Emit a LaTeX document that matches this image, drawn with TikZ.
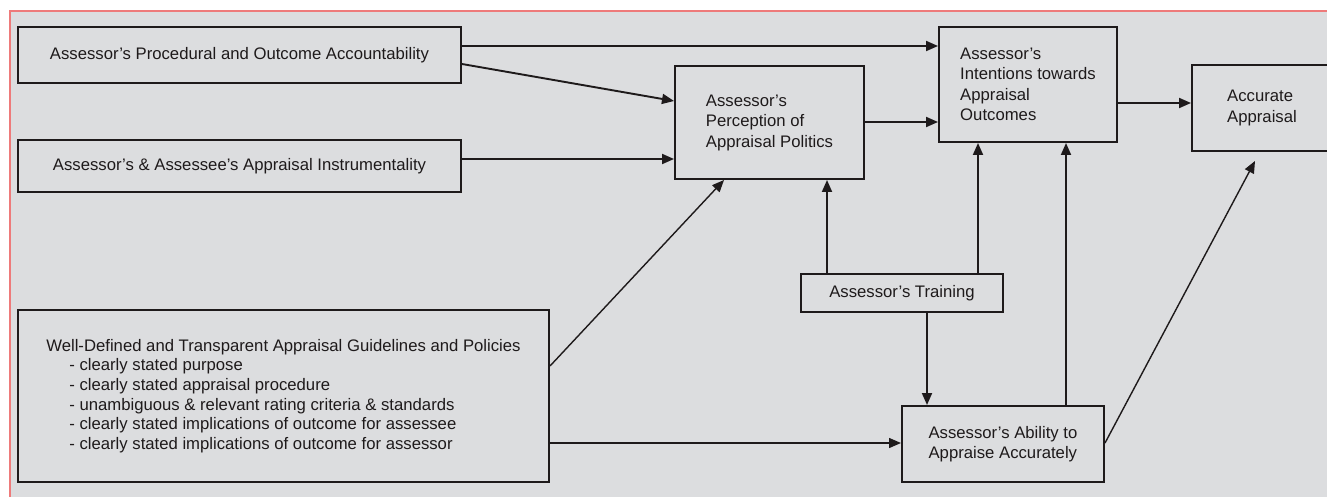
\documentclass[tikz,border=0pt]{standalone}
\usepackage{fontspec}
\setmainfont{Liberation Sans}
\usetikzlibrary{arrows.meta}
\definecolor{bg}{HTML}{DCDDDF}
\definecolor{ink}{HTML}{1E1A1B}
\definecolor{framered}{HTML}{EE7A7A}
\begin{document}
\begin{tikzpicture}[x=1pt,y=-1pt,
  box/.style={draw=ink, line width=2pt, inner sep=0pt, align=left, text=ink,
    font=\fontsize{16.7}{20.5}\selectfont},
  arr/.style={draw=ink, line width=1.9pt, -{Triangle[length=12pt,width=10pt]}},
  thinarr/.style={draw=ink, line width=1.4pt, -{Triangle[length=12pt,width=10pt]}}]
\useasboundingbox (0,0) rectangle (1327,497);
\clip (0,0) rectangle (1327,497);
\fill[white] (0,0) rectangle (1327,497);
\fill[bg] (10,11) rectangle (1330,500);
\draw[framered, line width=1.6pt] (10,500) -- (10,11) -- (1330,11);

\node[box, minimum width=443pt, minimum height=56pt] (A) at (239.5,55)
  {Assessor’s Procedural and Outcome Accountability};
\node[box, minimum width=443pt, minimum height=52pt] (B) at (239.5,166)
  {Assessor’s \& Assessee’s Appraisal Instrumentality};
\node[box, minimum width=189pt, minimum height=113pt] (P) at (769.5,122.5)
  {Assessor’s\\Perception of\\Appraisal Politics};
\node[box, minimum width=178pt, minimum height=115pt] (I) at (1028,84.5)
  {Assessor’s\\Intentions towards\\Appraisal\\Outcomes};
\node[box, minimum width=140pt, minimum height=86pt] (Acc) at (1262,108)
  {Accurate\\Appraisal};
\node[box, minimum width=202pt, minimum height=38pt] (T) at (902,293)
  {Assessor’s Training};
\node[box, minimum width=202pt, minimum height=76pt] (Ab) at (1003,444)
  {Assessor’s Ability to\\Appraise Accurately};
\node[box, minimum width=531pt, minimum height=172pt, font=\fontsize{16.7}{19.6}\selectfont] (G) at (283.5,396)
  {Well-Defined and Transparent Appraisal Guidelines and Policies\\
   \hspace*{23pt}- clearly stated purpose\\
   \hspace*{23pt}- clearly stated appraisal procedure\\
   \hspace*{23pt}- unambiguous \& relevant rating criteria \& standards\\
   \hspace*{23pt}- clearly stated implications of outcome for assessee\\
   \hspace*{23pt}- clearly stated implications of outcome for assessor};

\draw[arr] (A.east |- 0,46) -- (I.west |- 0,46);
\draw[arr] (A.east |- 0,64) -- (P.west |- 0,101);
\draw[arr] (B.east |- 0,159) -- (P.west |- 0,159);
\draw[arr] (P.east |- 0,122) -- (I.west |- 0,122);
\draw[arr] (I.east |- 0,103) -- (Acc.west |- 0,103);
\draw[thinarr] (G.east |- 0,366) -- (P.south -| 724,0);
\draw[arr] (T.north -| 827,0) -- (P.south -| 827,0);
\draw[arr] (T.north -| 978,0) -- (I.south -| 978,0);
\draw[arr] (T.south -| 927,0) -- (Ab.north -| 927,0);
\draw[arr] (Ab.north -| 1066,0) -- (I.south -| 1066,0);
\draw[thinarr] (Ab.east |- 0,443) -- ([yshift=-9pt]Acc.south -| 1255,0);
\draw[thinarr] (G.east |- 0,443) -- (Ab.west |- 0,443);
\end{tikzpicture}
\end{document}
